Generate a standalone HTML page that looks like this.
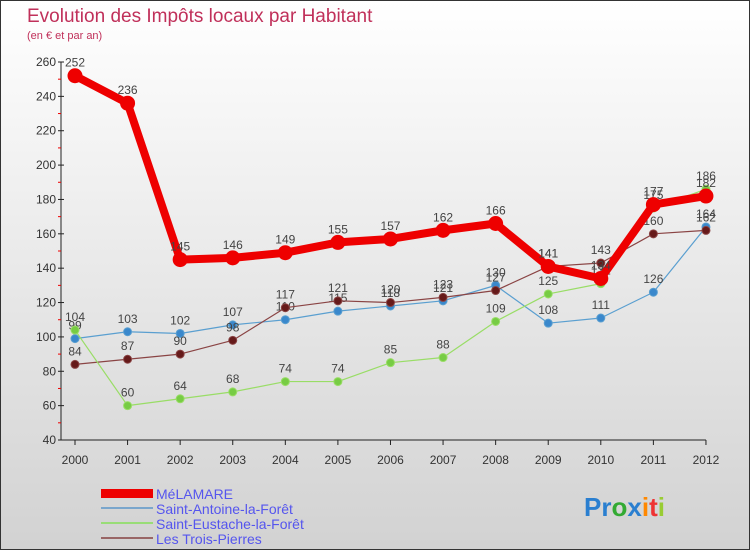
<!DOCTYPE html>
<html><head><meta charset="utf-8"><style>
body{margin:0;width:750px;height:550px;overflow:hidden;font-family:"Liberation Sans",sans-serif}
#wrap{position:relative;width:748px;height:548px;border:1px solid #333;background:linear-gradient(#fff,#d2d2d2)}
svg text{font-family:"Liberation Sans",sans-serif}
</style></head><body>
<div id="wrap">
<svg id="c" width="748" height="548">
<text x="26" y="21" font-size="19" fill="#c0305a">Evolution des Impôts locaux par Habitant</text>
<text x="26" y="38" font-size="11" fill="#c0305a">(en € et par an)</text>
<g id="axes"></g><g id="series"></g>
<g>
<rect x="100" y="488" width="52" height="9" fill="#e00"/>
<text x="155" y="498" font-size="14" fill="#5555ee">MéLAMARE</text>
<line x1="100" y1="507" x2="152" y2="507" stroke="#7aa6cc" stroke-width="2"/>
<text x="155" y="513" font-size="14" fill="#5555ee">Saint-Antoine-la-Forêt</text>
<line x1="100" y1="522" x2="152" y2="522" stroke="#99dd77" stroke-width="2"/>
<text x="155" y="528" font-size="14" fill="#5555ee">Saint-Eustache-la-Forêt</text>
<line x1="100" y1="537" x2="152" y2="537" stroke="#996666" stroke-width="2"/>
<text x="155" y="543" font-size="14" fill="#5555ee">Les Trois-Pierres</text>
</g>
<text x="583" y="515" font-size="26" font-weight="bold"><tspan fill="#2a7fd0">Pr</tspan><tspan fill="#3a3">o</tspan><tspan fill="#2a7fd0">x</tspan><tspan fill="#f80">i</tspan><tspan fill="#e33">t</tspan><tspan fill="#9c3">i</tspan></text>
</svg></div>
<script>
const years=[2000,2001,2002,2003,2004,2005,2006,2007,2008,2009,2010,2011,2012];
const yTicks=[40,60,80,100,120,140,160,180,200,220,240,260];
const melamare=[252,236,145,146,149,155,157,162,166,141,134,177,182];
const saintAntoine=[99,103,102,107,110,115,118,121,130,108,111,126,164];
const saintEustache=[104,60,64,68,74,74,85,88,109,125,131,175,186];
const troisPierres=[84,87,90,98,117,121,120,123,127,141,143,160,162];
const NS="http://www.w3.org/2000/svg";
const X=i=>74+i*52.58;
const Y=v=>439-(v-40)*(378/220);
function mk(t,a,p){const e=document.createElementNS(NS,t);for(const k in a)e.setAttribute(k,a[k]);p.appendChild(e);return e;}
const ax=document.getElementById('axes');
const yl=mk('line',{x1:60,y1:Y(260),x2:60,y2:Y(40),stroke:'#222'},ax);


const xl=mk('line',{x1:60,y1:Y(40),x2:X(12),y2:Y(40),stroke:'#222'},ax);


yTicks.forEach((v,i)=>{
 mk('line',{x1:57,y1:Y(v),x2:63,y2:Y(v),stroke:'#222'},ax);
 if(i<yTicks.length-1)mk('line',{x1:57,y1:Y(v+10),x2:60,y2:Y(v+10),stroke:'#e00'},ax);
 const t=mk('text',{x:55,y:Y(v)+4,'font-size':12,fill:'#333','text-anchor':'end'},ax);t.textContent=v;
 
 
});
years.forEach((y,i)=>{
 mk('line',{x1:X(i),y1:Y(40),x2:X(i),y2:Y(40)+5,stroke:'#222'},ax);
 const t=mk('text',{x:X(i),y:Y(40)+24,'font-size':12,fill:'#333','text-anchor':'middle'},ax);t.textContent=y;
 
 
});
const sg=document.getElementById('series');
function draw(data,name,color,dot,w,r){
 const g=mk('g',{},sg);
 
 
 mk('polyline',{points:data.map((v,i)=>X(i)+','+Y(v)).join(' '),fill:'none',stroke:color,'stroke-width':w,'stroke-linejoin':'round'},g);
 data.forEach((v,i)=>{
  const c=mk('circle',{cx:X(i),cy:Y(v),r:r,fill:dot,stroke:color,'stroke-width':1},g);
  
  
  const t=mk('text',{x:X(i),y:Y(v)-9,'font-size':12,fill:'#444','text-anchor':'middle'},g);t.textContent=v;
  
  
 });
}
draw(saintAntoine,'saint-antoine','#5a9fd0','#3a88cc',1.2,4);
draw(troisPierres,'trois-pierres','#8a4444','#661a1a',1.2,4);
draw(saintEustache,'saint-eustache','#99dd66','#77cc44',1.2,4);
draw(melamare,'melamare','#ee0000','#ee0000',8,7);
</script>
</body></html>
